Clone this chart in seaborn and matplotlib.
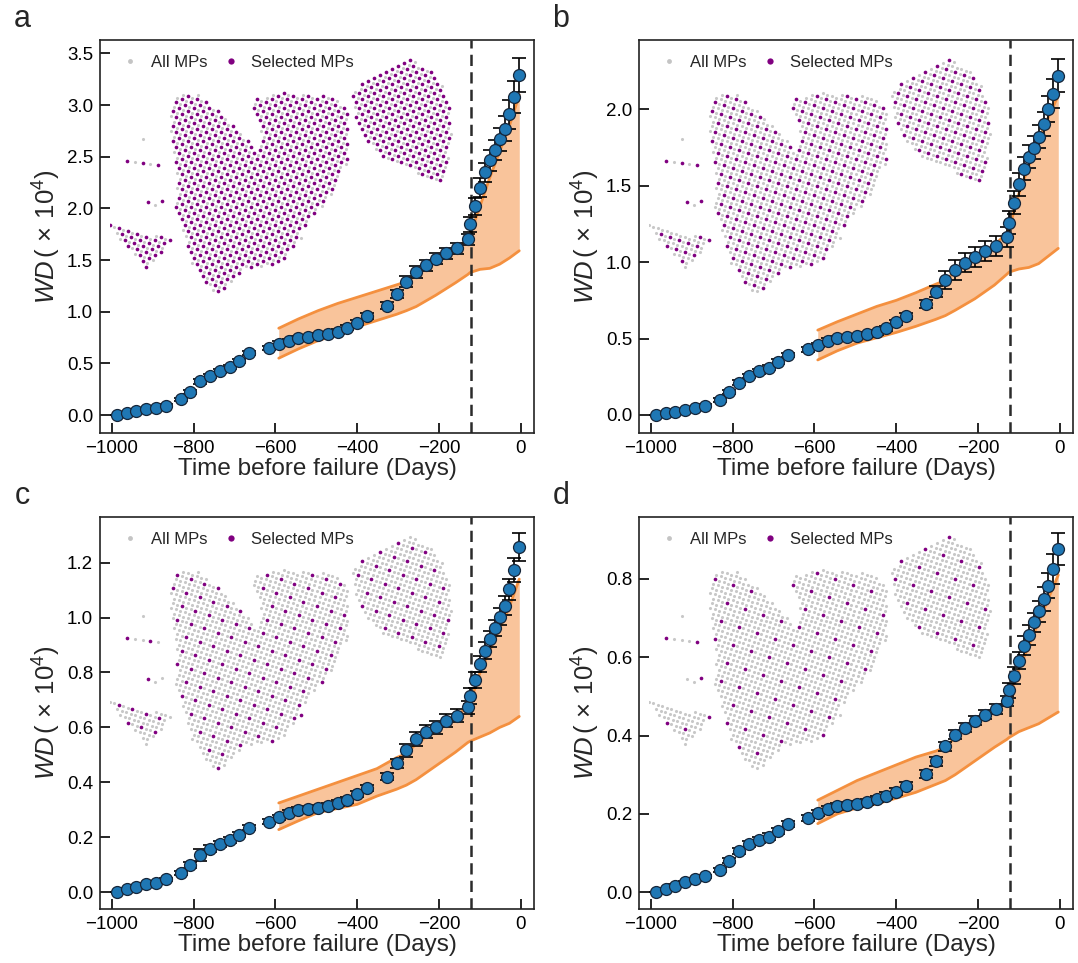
import numpy as np
import pandas as pd
import matplotlib
matplotlib.use("Agg")
import matplotlib.pyplot as plt
from matplotlib.lines import Line2D
from matplotlib.path import Path
import seaborn as sns

sns.set_theme(style="ticks")
plt.rcParams['font.family'] = ['Liberation Sans', 'DejaVu Sans']
plt.rcParams['mathtext.fontset'] = 'custom'
plt.rcParams['mathtext.it'] = 'Liberation Sans:italic'
plt.rcParams['mathtext.rm'] = 'Liberation Sans'

# ---------------- data ----------------
days = [-988, -964, -940, -916, -892, -868, -832, -808, -784, -760, -736, -712, -688, -664,
        -616, -592, -568, -544, -520, -496, -472, -448, -424, -400, -376, -328, -304, -280,
        -256, -232, -208, -184, -156, -130, -124, -112, -100, -88, -76, -64, -52, -40, -28, -16, -4]

wd_a = [0.0, 0.016, 0.037, 0.055, 0.071, 0.09, 0.152, 0.226, 0.325, 0.38, 0.424, 0.466, 0.52, 0.597,
        0.646, 0.692, 0.72, 0.742, 0.758, 0.772, 0.785, 0.808, 0.845, 0.895, 0.96, 1.06, 1.172, 1.29,
        1.385, 1.45, 1.512, 1.565, 1.613, 1.70, 1.846, 2.02, 2.20, 2.35, 2.465, 2.565, 2.67, 2.77, 2.91, 3.08, 3.29]
err_a = [0.0, 0.005, 0.008, 0.01, 0.01, 0.012, 0.015, 0.018, 0.02, 0.02, 0.02, 0.02, 0.02, 0.02,
         0.02, 0.02, 0.02, 0.02, 0.02, 0.02, 0.022, 0.022, 0.025, 0.025, 0.028, 0.03, 0.035, 0.055,
         0.055, 0.055, 0.055, 0.055, 0.055, 0.055, 0.07, 0.08, 0.09, 0.09, 0.1, 0.1, 0.11, 0.12, 0.14, 0.155, 0.165]

wd_b = [0.0, 0.011, 0.02, 0.033, 0.044, 0.059, 0.098, 0.148, 0.212, 0.255, 0.286, 0.31, 0.349, 0.393,
        0.43, 0.458, 0.486, 0.502, 0.508, 0.517, 0.528, 0.541, 0.567, 0.606, 0.65, 0.724, 0.807, 0.883,
        0.949, 0.997, 1.036, 1.073, 1.106, 1.167, 1.258, 1.389, 1.509, 1.61, 1.69, 1.749, 1.821, 1.902, 2.0, 2.1, 2.22]
err_b = [0.0, 0.004, 0.006, 0.008, 0.008, 0.01, 0.012, 0.014, 0.015, 0.015, 0.015, 0.015, 0.015, 0.015,
         0.015, 0.015, 0.015, 0.015, 0.015, 0.015, 0.016, 0.016, 0.018, 0.018, 0.02, 0.025, 0.035, 0.06,
         0.065, 0.065, 0.065, 0.065, 0.065, 0.065, 0.075, 0.075, 0.075, 0.075, 0.075, 0.075, 0.075, 0.08, 0.085, 0.095, 0.11]

wd_c = [0.0, 0.011, 0.018, 0.029, 0.035, 0.047, 0.069, 0.099, 0.136, 0.159, 0.175, 0.19, 0.21, 0.235,
        0.257, 0.273, 0.29, 0.30, 0.303, 0.308, 0.314, 0.324, 0.336, 0.358, 0.379, 0.421, 0.47, 0.516,
        0.557, 0.585, 0.60, 0.625, 0.643, 0.673, 0.715, 0.773, 0.83, 0.88, 0.921, 0.961, 1.003, 1.043, 1.103, 1.173, 1.256]
err_c = [0.0, 0.003, 0.004, 0.005, 0.005, 0.006, 0.008, 0.01, 0.022, 0.012, 0.01, 0.01, 0.01, 0.01,
         0.01, 0.01, 0.01, 0.01, 0.01, 0.01, 0.01, 0.01, 0.012, 0.012, 0.012, 0.014, 0.016, 0.022,
         0.025, 0.025, 0.025, 0.025, 0.025, 0.025, 0.03, 0.03, 0.03, 0.03, 0.03, 0.03, 0.03, 0.035, 0.038, 0.045, 0.05]

wd_d = [0.0, 0.0085, 0.017, 0.025, 0.033, 0.04, 0.057, 0.08, 0.106, 0.123, 0.134, 0.142, 0.157, 0.174,
        0.189, 0.203, 0.212, 0.219, 0.223, 0.226, 0.231, 0.237, 0.246, 0.257, 0.272, 0.301, 0.334, 0.372,
        0.402, 0.42, 0.438, 0.453, 0.467, 0.489, 0.515, 0.553, 0.591, 0.629, 0.657, 0.689, 0.717, 0.749, 0.783, 0.826, 0.876]
err_d = [0.0, 0.002, 0.003, 0.003, 0.004, 0.004, 0.005, 0.006, 0.008, 0.008, 0.008, 0.008, 0.008, 0.008,
         0.008, 0.008, 0.008, 0.008, 0.008, 0.008, 0.008, 0.008, 0.009, 0.009, 0.009, 0.01, 0.011, 0.012,
         0.012, 0.012, 0.012, 0.012, 0.013, 0.013, 0.02, 0.022, 0.022, 0.024, 0.025, 0.025, 0.027, 0.03, 0.033, 0.038, 0.04]

band_days = [-592, -544, -496, -448, -400, -352, -304, -280, -256, -208, -160, -130, -124, -100, -76, -52, -28, -4]
up_a = [0.84, 0.93, 1.01, 1.08, 1.14, 1.20, 1.26, 1.29, 1.37, 1.49, 1.61, 1.70, 1.75, 2.02, 2.30, 2.55, 2.80, 3.10]
lo_a = [0.55, 0.64, 0.72, 0.78, 0.855, 0.915, 0.975, 1.01, 1.05, 1.16, 1.28, 1.36, 1.38, 1.41, 1.42, 1.46, 1.52, 1.59]
up_b = [0.555, 0.61, 0.66, 0.71, 0.75, 0.80, 0.855, 0.88, 0.94, 1.03, 1.11, 1.19, 1.22, 1.45, 1.63, 1.80, 1.95, 2.09]
lo_b = [0.36, 0.42, 0.47, 0.505, 0.54, 0.58, 0.625, 0.65, 0.685, 0.76, 0.85, 0.92, 0.935, 0.955, 0.965, 0.99, 1.04, 1.09]
up_c = [0.325, 0.35, 0.375, 0.40, 0.425, 0.45, 0.49, 0.505, 0.54, 0.59, 0.64, 0.675, 0.69, 0.80, 0.88, 0.96, 1.04, 1.14]
lo_c = [0.228, 0.26, 0.29, 0.305, 0.32, 0.35, 0.375, 0.39, 0.41, 0.46, 0.51, 0.545, 0.55, 0.565, 0.58, 0.60, 0.615, 0.64]
up_d = [0.235, 0.26, 0.285, 0.305, 0.325, 0.345, 0.36, 0.37, 0.395, 0.43, 0.465, 0.49, 0.50, 0.57, 0.63, 0.69, 0.75, 0.81]
lo_d = [0.175, 0.20, 0.215, 0.225, 0.24, 0.255, 0.275, 0.285, 0.30, 0.335, 0.37, 0.39, 0.395, 0.41, 0.42, 0.43, 0.445, 0.46]

failure_onset = -123

# monitoring-point map (local map coordinates)
main_blob = [(62, 200), (70, 207), (88, 206), (105, 192), (127, 172), (140, 160), (146, 150), (152, 168),
             (140, 197), (150, 203), (167, 208), (193, 206), (212, 205), (228, 201), (238, 188), (238, 160),
             (237, 137), (228, 124), (218, 100), (198, 78), (182, 52), (172, 37), (150, 33), (133, 30),
             (118, 14), (108, 4), (97, 16), (82, 37), (77, 58), (70, 80), (65, 92), (68, 120), (62, 160), (60, 183)]
left_blob = [(0, 75), (12, 72), (30, 68), (50, 64), (62, 60), (55, 52), (45, 38), (36, 32), (28, 42), (15, 55), (5, 66)]
right_blob = [(242, 210), (260, 222), (282, 232), (300, 241), (318, 233), (330, 218), (340, 195), (341, 165),
              (338, 140), (334, 118), (322, 122), (306, 128), (288, 134), (272, 142), (258, 158), (244, 180)]
iso_x = [17, 25, 33, 40, 48, 33, 38, 45, 52, 191]
iso_y = [139, 138, 137, 136, 135, 161, 98, 95, 99, 62]
grid_u = (4.5, -1.5)
grid_v = (1.5, 4.5)
select_step = {'a': 2, 'b': 2, 'c': 3, 'd': 4}

# ---------------- build MP grid ----------------
ii, jj = np.meshgrid(np.arange(-60, 120), np.arange(-60, 120))
ii = ii.ravel(); jj = jj.ravel()
gx = ii * grid_u[0] + jj * grid_v[0]
gy = ii * grid_u[1] + jj * grid_v[1]
pts = np.column_stack([gx, gy])
inside = np.zeros(len(pts), bool)
for poly in (main_blob, left_blob, right_blob):
    inside |= Path(poly).contains_points(pts)
mp_x = np.concatenate([gx[inside], iso_x])
mp_y = np.concatenate([gy[inside], iso_y])
mp_i = np.concatenate([ii[inside], np.arange(len(iso_x))])
mp_j = np.concatenate([jj[inside], np.arange(len(iso_x)) * 2])


def selected(letter):
    s = select_step[letter]
    if letter == 'a':
        return (mp_i + mp_j) % 2 == 0
    return (mp_i % s == 0) & (mp_j % s == 0)


# ---------------- figure ----------------
W, H = 1078, 963
fig = plt.figure(figsize=(W / 100, H / 100), dpi=100)

panels = [
    ('a', (100, 40, 534, 433), wd_a, err_a, up_a, lo_a, (-0.174, 3.63), np.arange(0, 3.51, 0.5)),
    ('b', (639, 40, 1073, 433), wd_b, err_b, up_b, lo_b, (-0.118, 2.453), np.arange(0, 2.01, 0.5)),
    ('c', (100, 517, 534, 909), wd_c, err_c, up_c, lo_c, (-0.061, 1.366), np.arange(0, 1.21, 0.2)),
    ('d', (639, 517, 1073, 909), wd_d, err_d, up_d, lo_d, (-0.043, 0.958), np.arange(0, 0.81, 0.2)),
]

blue = '#1f77b4'
band_fill = '#f9c49b'
band_edge = '#f4903f'

for letter, (x0, y0, x1, y1), wd, err, up, lo, ylim, yt in panels:
    ax = fig.add_axes([x0 / W, 1 - y1 / H, (x1 - x0) / W, (y1 - y0) / H])
    df = pd.DataFrame({'days': days, 'wd': wd, 'err': err})
    bdf = pd.DataFrame({'days': band_days, 'up': up, 'lo': lo})

    ax.fill_between(bdf['days'], bdf['lo'], bdf['up'], color=band_fill, lw=0, zorder=1)
    sns.lineplot(data=bdf, x='days', y='up', ax=ax, color=band_edge, lw=2, zorder=2)
    sns.lineplot(data=bdf, x='days', y='lo', ax=ax, color=band_edge, lw=2, zorder=2)
    ax.axvline(failure_onset, color='#2b2b2b', ls=(0, (4.5, 2.5)), lw=1.8, zorder=2.5)
    ax.errorbar(df['days'], df['wd'], yerr=df['err'], fmt='none', ecolor='black',
                elinewidth=1.2, capsize=5, capthick=1.2, zorder=3)
    sns.scatterplot(data=df, x='days', y='wd', ax=ax, s=74, color=blue,
                    edgecolor='#16263a', linewidth=0.9, zorder=4)

    ax.set_xlim(-1029, 32)
    ax.set_ylim(*ylim)
    ax.set_yticks(yt)
    ax.set_yticklabels([f"{v:.1f}" for v in yt])
    ax.set_xticks([-1000, -800, -600, -400, -200, 0])
    ax.tick_params(direction='in', length=7, width=1.2, labelsize=13.5, top=False, right=False,
                   colors='black', pad=5)
    for sp in ax.spines.values():
        sp.set_linewidth(1.2)
        sp.set_color('#222222')
    ax.set_xlabel('Time before failure (Days)', fontsize=17.5, labelpad=1)
    ax.set_ylabel(r'$WD\,(\,\times\,10^4)$', fontsize=18.5, labelpad=3)

    # map of monitoring points
    ins = ax.inset_axes([0.023, 0.338, 0.795, 0.623])
    ins.set_zorder(0.5)
    ins.set_xlim(0, 345)
    ins.set_ylim(0, 245)
    sel = selected(letter)
    mdf = pd.DataFrame({'x': mp_x, 'y': mp_y, 'sel': sel})
    sns.scatterplot(data=mdf[~mdf['sel']], x='x', y='y', ax=ins, s=5, color='#c8c8c8',
                    linewidth=0, legend=False)
    sns.scatterplot(data=mdf[mdf['sel']], x='x', y='y', ax=ins, s=7, color='#800080',
                    linewidth=0, legend=False)
    ins.set_xticks([])
    ins.set_yticks([])
    ins.set_xlabel('')
    ins.set_ylabel('')
    ins.axis('off')
    ins.patch.set_alpha(0)

    handles = [Line2D([], [], ls='none', marker='o', ms=3.5, color='#c4c4c4', mec='none'),
               Line2D([], [], ls='none', marker='o', ms=4.5, color='#800080', mec='none')]
    ax.legend(handles, ['All MPs', 'Selected MPs'], loc='upper left', ncol=2, frameon=False,
              fontsize=12, handlelength=1.8, handletextpad=0.35, columnspacing=0.5,
              borderaxespad=0.5, borderpad=0.4)

    fig.text((x0 - 78) / W, 1 - (y0 - 21) / H, letter, fontsize=22, ha='center', va='center')

fig.savefig('out.png', dpi=100)
